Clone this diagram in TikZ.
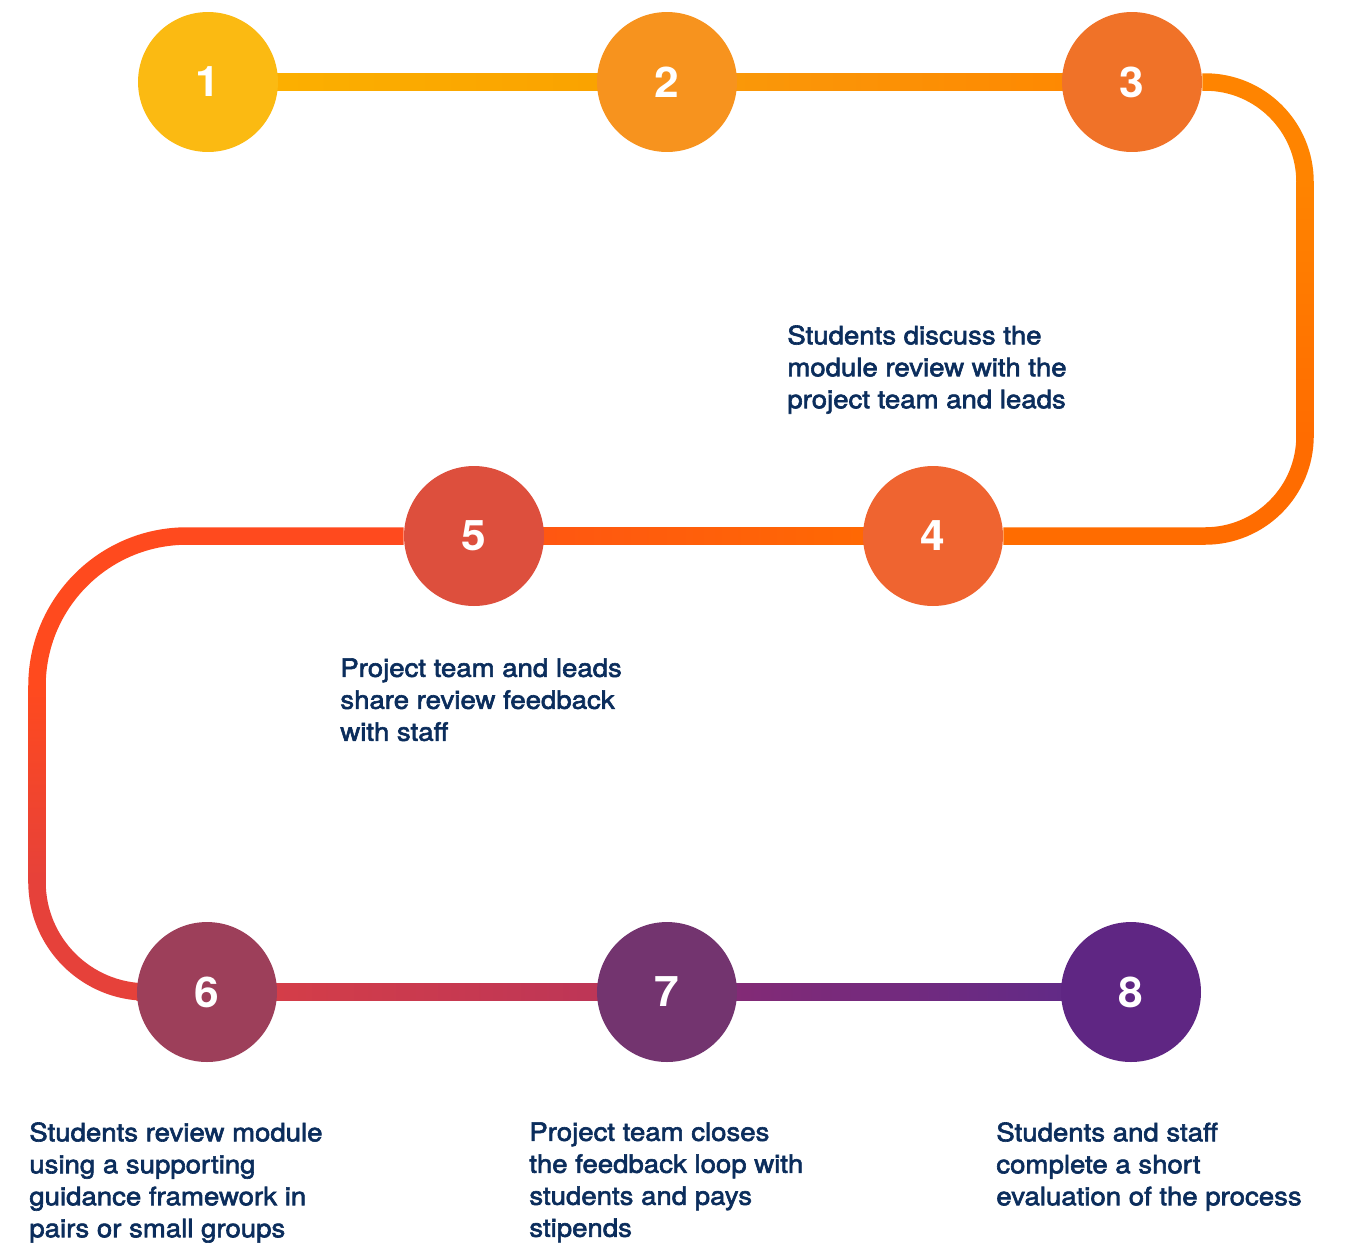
\documentclass[tikz,border=0pt]{standalone}
\usepackage{fontspec}
\newfontfamily\notefont{TeX Gyre Heros}[FakeStretch=1.09, FakeBold=2.4]
\newfontfamily\numfont{TeX Gyre Heros}[FakeStretch=1.05]
\usepackage{tikz}
\usetikzlibrary{calc,backgrounds}

\definecolor{navy}{HTML}{0B2D5C}
\definecolor{cA}{HTML}{FBBA12}
\definecolor{cB}{HTML}{F7931E}
\definecolor{cC}{HTML}{F07228}
\definecolor{cD}{HTML}{EF6430}
\definecolor{cE}{HTML}{DD4F3D}
\definecolor{cF}{HTML}{9D3F5A}
\definecolor{cG}{HTML}{73346F}
\definecolor{cH}{HTML}{5F2683}
\definecolor{rA}{HTML}{FF8400}
\definecolor{rB}{HTML}{FF6C00}
\definecolor{lA}{HTML}{FF4A1E}
\definecolor{lB}{HTML}{E6413A}

\tikzset{
  stage/.style={circle, minimum size=2.8cm, inner sep=0pt, text=white,
    font=\numfont\bfseries\fontsize{24pt}{24pt}\selectfont},
  note/.style={anchor=north west, inner sep=0pt, align=left, text=navy,
    font=\notefont\fontsize{14.4pt}{18.2pt}\selectfont},
  track/.style={line width=0.35cm},
}

\begin{document}
\begin{tikzpicture}[x=0.02cm, y=0.02cm]
\newcommand{\hw}{8.75}
\useasboundingbox (0,0) rectangle (1348,-1242);
%% the eight steps
\node[stage, fill=cA] (s1) at (208,-82) {1};
\node[stage, fill=cB] (s2) at (667,-82) {2};
\node[stage, fill=cC] (s3) at (1132,-82) {3};
\node[stage, fill=cD] (s4) at (933,-536) {4};
\node[stage, fill=cE] (s5) at (474,-536) {5};
\node[stage, fill=cF] (s6) at (207,-992) {6};
\node[stage, fill=cG] (s7) at (667,-992) {7};
\node[stage, fill=cH] (s8) at (1131,-992) {8};
%% texts
\node[note] (n3) at (787,-325) {Students discuss the\\module review with the\\project team and leads};
\node[note] (n5) at (340,-658) {Project team and leads\\share review feedback\\with staff};
\node[note] (n6) at (29,-1122) {Students review module\\using a supporting\\guidance framework in\\pairs or small groups};
\node[note] (n7) at (529,-1122) {Project team closes\\the feedback loop with\\students and pays\\stipends};
\node[note] (n8) at (996,-1122) {Students and staff\\complete a short\\evaluation of the process};
\begin{scope}[on background layer]
  %% straight parts
  \shade[left color={rgb,255:red,252;green,178;blue,0}, right color={rgb,255:red,250;green,160;blue,0}] ($(s1)+(0,-\hw)$) rectangle ($(s2)+(0,\hw)$);
  \shade[left color={rgb,255:red,249;green,155;blue,10}, right color={rgb,255:red,255;green,134;blue,0}] ($(s2)+(0,-\hw)$) rectangle ($(s3)+(0,\hw)$);
  \shade[left color={rgb,255:red,255;green,83;blue,20}, right color=rB] ($(s5)+(0,-\hw)$) rectangle ($(s4)+(0,\hw)$);
  \shade[left color={rgb,255:red,217;green,63;blue,69}, right color={rgb,255:red,184;green,52;blue,90}] ($(s6)+(0,-\hw)$) rectangle ($(s7)+(0,\hw)$);
  \shade[left color={rgb,255:red,138;green,42;blue,114}, right color={rgb,255:red,91;green,42;blue,138}] ($(s7)+(0,-\hw)$) rectangle ($(s8)+(0,\hw)$);
  %% right bend
  \coordinate (rt) at (1305,-82);
  \coordinate (rb) at (1305,-536);
  \draw[track, rA] (s3) -- ($(rt)+(-100,0)$) arc[start angle=90, end angle=0, radius=100];
  \shade[top color=rA, bottom color=rB] ($(rt)+(-\hw,-99)$) rectangle ($(rb)+(\hw,99)$);
  \draw[track, rB] ($(rb)+(0,100)$) arc[start angle=0, end angle=-90, radius=100] -- (s4);
  %% left bend
  \coordinate (lt) at (37,-536);
  \coordinate (lb) at (37,-992);
  \draw[track, lA] (s5) -- ($(lt)+(150,0)$) arc[start angle=90, end angle=180, radius=150];
  \shade[top color=lA, bottom color=lB] ($(lt)+(-\hw,-149)$) rectangle ($(lb)+(\hw,109)$);
  \draw[track, lB] ($(lb)+(0,110)$) arc[start angle=180, end angle=270, radius=110] -- (s6);
\end{scope}
\end{tikzpicture}
\end{document}
